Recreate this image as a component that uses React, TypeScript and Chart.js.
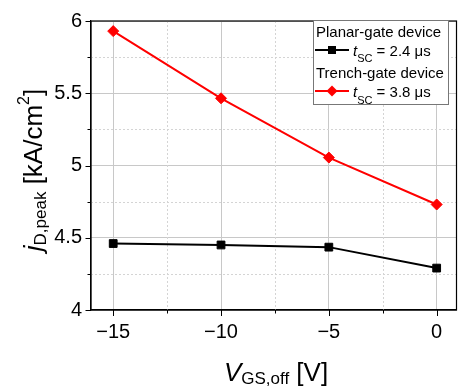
import React, { useEffect, useRef } from "react";
import { Chart, registerables } from "chart.js";

Chart.register(...registerables);

// ---- data ----
const vgsOff = [-15, -10, -5, 0];
const planarPeak = [4.46, 4.45, 4.435, 4.29];
const trenchPeak = [5.93, 5.465, 5.055, 4.73];
const xMajorTicks = [-15, -10, -5, 0];
const xMinorTicks = [-12.5, -7.5, -2.5];
const yMajorTicks = [4, 4.5, 5, 5.5, 6];
const yMinorTicks = [4.25, 4.75, 5.25, 5.75];
const seriesNames = ["Planar-gate device", "Trench-gate device"];
const tscValues = ["2.4", "3.8"];

const FAMILY = '"Liberation Sans", Arial, Helvetica, sans-serif';

type Part = { text: string; size: number; italic?: boolean; dy?: number };

function partsWidth(ctx: CanvasRenderingContext2D, parts: Part[]) {
  let w = 0;
  for (const p of parts) {
    ctx.font = `${p.italic ? "italic " : ""}${p.size}px ${FAMILY}`;
    w += ctx.measureText(p.text).width;
  }
  return w;
}

function drawParts(ctx: CanvasRenderingContext2D, parts: Part[], x: number, y: number) {
  let cx = x;
  ctx.textBaseline = "alphabetic";
  ctx.textAlign = "left";
  for (const p of parts) {
    ctx.font = `${p.italic ? "italic " : ""}${p.size}px ${FAMILY}`;
    ctx.fillText(p.text, cx, y + (p.dy || 0));
    cx += ctx.measureText(p.text).width;
  }
  return cx - x;
}

const fmt = (v: number) => (v < 0 ? "\u2212" + Math.abs(v) : String(v));

const decorPlugin = {
  id: "decor",
  beforeDatasetsDraw(chart: any) {
    const { ctx, chartArea: a, scales } = chart;
    const x = scales.x;
    const y = scales.y;
    ctx.save();
    ctx.strokeStyle = "#d4d4d4";
    ctx.lineWidth = 1;
    ctx.setLineDash([2, 2]);
    for (const v of xMinorTicks) {
      const px = Math.round(x.getPixelForValue(v)) + 0.5;
      ctx.beginPath();
      ctx.moveTo(px, a.top);
      ctx.lineTo(px, a.bottom);
      ctx.stroke();
    }
    for (const v of yMinorTicks) {
      const py = Math.round(y.getPixelForValue(v)) + 0.5;
      ctx.beginPath();
      ctx.moveTo(a.left, py);
      ctx.lineTo(a.right, py);
      ctx.stroke();
    }
    ctx.restore();
  },
  afterDraw(chart: any) {
    const { ctx, chartArea: a, scales } = chart;
    const x = scales.x;
    const y = scales.y;
    ctx.save();
    // frame
    ctx.strokeStyle = "#000";
    ctx.lineWidth = 1.2;
    ctx.strokeRect(a.left, a.top, a.right - a.left, a.bottom - a.top);
    // tick marks
    ctx.lineWidth = 1;
    ctx.beginPath();
    for (const v of xMajorTicks) {
      const px = Math.round(x.getPixelForValue(v)) + 0.5;
      ctx.moveTo(px, a.bottom);
      ctx.lineTo(px, a.bottom + 6);
    }
    for (const v of xMinorTicks) {
      const px = Math.round(x.getPixelForValue(v)) + 0.5;
      ctx.moveTo(px, a.bottom);
      ctx.lineTo(px, a.bottom + 3.5);
    }
    for (const v of yMajorTicks) {
      const py = Math.round(y.getPixelForValue(v)) + 0.5;
      ctx.moveTo(a.left, py);
      ctx.lineTo(a.left - 5.5, py);
    }
    for (const v of yMinorTicks) {
      const py = Math.round(y.getPixelForValue(v)) + 0.5;
      ctx.moveTo(a.left, py);
      ctx.lineTo(a.left - 3.5, py);
    }
    ctx.stroke();

    // axis titles
    ctx.fillStyle = "#000";
    const xTitle: Part[] = [
      { text: "V", size: 26, italic: true },
      { text: "GS,off", size: 17, dy: 3 },
      { text: " [V]", size: 26 },
    ];
    const xw = partsWidth(ctx, xTitle);
    drawParts(ctx, xTitle, 276 - xw / 2, 380.5);

    const yTitle: Part[] = [
      { text: "j", size: 26, italic: true },
      { text: "D,peak", size: 17, dy: 4 },
      { text: " [kA/cm", size: 26 },
      { text: "2", size: 16, dy: -13 },
      { text: "]", size: 26 },
    ];
    const yw = partsWidth(ctx, yTitle);
    ctx.save();
    ctx.translate(42.3, 170);
    ctx.rotate(-Math.PI / 2);
    drawParts(ctx, yTitle, -yw / 2, 0);
    ctx.restore();

    // legend
    const bx = 313.5, by = 20.5, bw = 135, bh = 84;
    ctx.fillStyle = "#fff";
    ctx.fillRect(bx, by, bw, bh);
    ctx.strokeStyle = "#777";
    ctx.lineWidth = 1;
    ctx.strokeRect(bx, by, bw, bh);
    ctx.fillStyle = "#000";
    const ds = chart.data.datasets;
    const rows = [
      { head: 36.7, line: 50, text: 55.7 },
      { head: 78.3, line: 91, text: 97.3 },
    ];
    rows.forEach((r, i) => {
      const color = ds[i].borderColor;
      ctx.fillStyle = "#000";
      drawParts(ctx, [{ text: seriesNames[i], size: 15 }], 316, r.head);
      ctx.strokeStyle = color;
      ctx.lineWidth = 2;
      ctx.beginPath();
      ctx.moveTo(315, r.line);
      ctx.lineTo(349, r.line);
      ctx.stroke();
      ctx.fillStyle = color;
      ctx.beginPath();
      if (i === 0) {
        ctx.rect(332 - 4, r.line - 4, 8, 8);
      } else {
        ctx.moveTo(332, r.line - 5.5);
        ctx.lineTo(337.5, r.line);
        ctx.lineTo(332, r.line + 5.5);
        ctx.lineTo(326.5, r.line);
        ctx.closePath();
      }
      ctx.fill();
      ctx.fillStyle = "#000";
      drawParts(
        ctx,
        [
          { text: "t", size: 15, italic: true },
          { text: "SC", size: 11, dy: 6.3 },
          { text: " = " + tscValues[i] + " \u03bcs", size: 15 },
        ],
        353,
        r.text
      );
    });
    ctx.restore();
  },
};

export default function App() {
  const ref = useRef<HTMLCanvasElement | null>(null);
  useEffect(() => {
    if (!ref.current) return;
    const tickFont = { family: FAMILY, size: 20 };
    const chart = new Chart(ref.current, {
      type: "line",
      data: {
        datasets: [
          {
            label: seriesNames[0],
            data: vgsOff.map((v, i) => ({ x: v, y: planarPeak[i] })),
            borderColor: "#000000",
            backgroundColor: "#000000",
            borderWidth: 2,
            pointStyle: "rect",
            pointRadius: 5.5,
            pointBorderWidth: 1,
            tension: 0,
          },
          {
            label: seriesNames[1],
            data: vgsOff.map((v, i) => ({ x: v, y: trenchPeak[i] })),
            borderColor: "#ff0000",
            backgroundColor: "#ff0000",
            borderWidth: 2,
            pointStyle: "rectRot",
            pointRadius: 5.5,
            pointBorderWidth: 1,
            tension: 0,
          },
        ],
      },
      options: {
        animation: false,
        responsive: false,
        layout: { padding: { top: 14, right: 5, left: 0, bottom: 0 } },
        plugins: { legend: { display: false }, tooltip: { enabled: false } },
        scales: {
          x: {
            type: "linear",
            min: -16.03,
            max: 0.92,
            afterBuildTicks: (s: any) => {
              s.ticks = xMajorTicks.map((v) => ({ value: v }));
            },
            afterFit: (s: any) => {
              s.height = 77;
            },
            grid: { color: "#c8c8c8", lineWidth: 1, drawTicks: false },
            border: { color: "#000", width: 1.2 },
            ticks: {
              autoSkip: false,
              maxRotation: 0,
              padding: 10,
              color: "#000",
              font: tickFont,
              callback: (v: any) => fmt(Number(v)),
            },
          },
          y: {
            type: "linear",
            min: 4,
            max: 6,
            afterBuildTicks: (s: any) => {
              s.ticks = yMajorTicks.map((v) => ({ value: v }));
            },
            afterFit: (s: any) => {
              s.width = 91;
            },
            grid: { color: "#c8c8c8", lineWidth: 1, drawTicks: false },
            border: { color: "#000", width: 1.2 },
            ticks: {
              autoSkip: false,
              padding: 9,
              color: "#000",
              font: tickFont,
              callback: (v: any) => fmt(Number(v)),
            },
          },
        },
      },
      plugins: [decorPlugin],
    } as any);
    return () => chart.destroy();
  }, []);
  return (
    <div style={{ position: "fixed", left: 0, top: 0, width: 463, height: 387, background: "#fff" }}>
      <canvas ref={ref} width={463} height={387} style={{ display: "block" }} />
    </div>
  );
}
